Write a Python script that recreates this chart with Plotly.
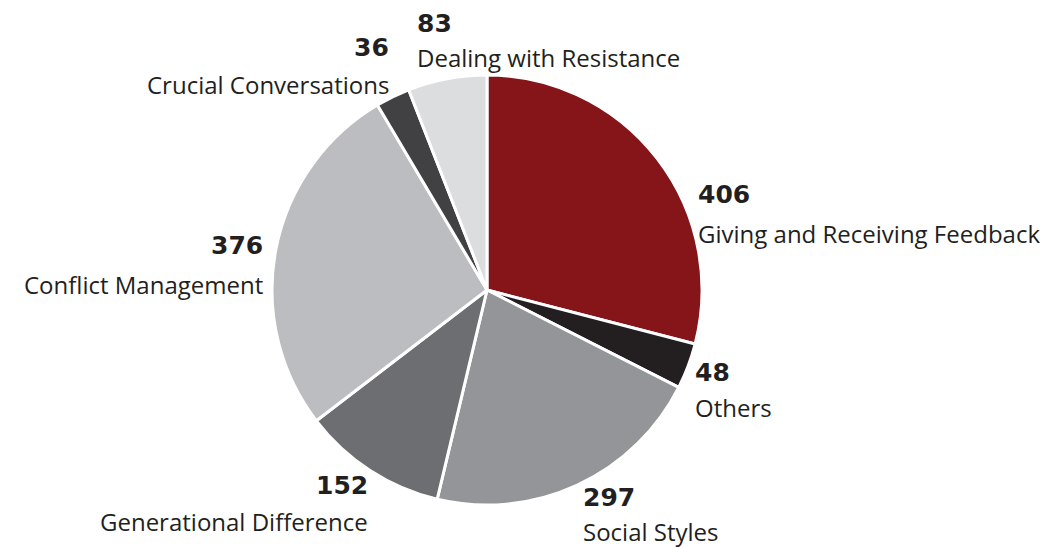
import plotly.graph_objects as go

categories = ["Giving and Receiving Feedback", "Others", "Social Styles",
              "Generational Difference", "Conflict Management",
              "Crucial Conversations", "Dealing with Resistance"]
values = [406, 48, 297, 152, 376, 36, 83]
colors = ["#861519", "#231F20", "#939598", "#6D6E71", "#BCBDC0", "#414042", "#DCDDDE"]

OFF = 8  # page body margin
W, H = 1060 - OFF, 547 - OFF
# label anchor positions in reference pixels: (x, y_number, y_label, xanchor)
label_pos = [
    (697, 195, 233, "left"),
    (694, 372, 408, "left"),
    (582, 497, 531, "left"),
    (369, 485, 521, "right"),
    (264, 246, 284, "right"),
    (390, 48, 84, "right"),
    (416, 23, 57, "left"),
]

cx, cy, r = 487 - OFF, 290 - OFF, 215


def px(x):
    return (x - OFF) / W


def py(y):
    return 1 - (y - OFF) / H


fig = go.Figure(go.Pie(
    labels=categories, values=values, sort=False, direction="clockwise",
    rotation=0, marker=dict(colors=colors, line=dict(color="white", width=3)),
    textinfo="none", hoverinfo="label+value", showlegend=False,
    domain=dict(x=[(cx - r) / W, (cx + r) / W], y=[(H - cy - r) / H, (H - cy + r) / H]),
))

ann = []
for cat, val, (x, yn, yl, xa) in zip(categories, values, label_pos):
    ann.append(dict(x=px(x), y=py(yn), xref="paper", yref="paper", text=str(val),
                    showarrow=False, xanchor=xa, yanchor="middle", borderpad=0,
                    font=dict(family="DejaVu Sans", size=25, color="#231F20", weight=800)))
    ann.append(dict(x=px(x), y=py(yl), xref="paper", yref="paper", text=cat,
                    showarrow=False, xanchor=xa, yanchor="middle", borderpad=0,
                    font=dict(family="Open Sans", size=24, color="#231F20")))

fig.update_layout(width=W, height=H, margin=dict(l=0, r=0, t=0, b=0),
                  paper_bgcolor="white", plot_bgcolor="white", annotations=ann)
fig.write_html("out.html")
